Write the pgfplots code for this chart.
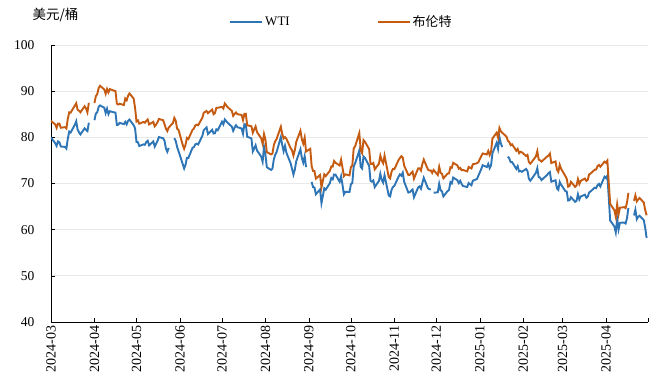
\documentclass[border=0pt]{standalone}
\usepackage{fontspec}
\setmainfont{Liberation Serif}
\newfontfamily\cjk{Noto Sans CJK SC}
\usepackage{pgfplots}
\usepackage{pgfplotstable}
\usepgfplotslibrary{dateplot}
\pgfplotsset{compat=1.18}
\definecolor{wtiblue}{RGB}{46,117,182}
\definecolor{brentorange}{RGB}{197,90,17}
\definecolor{gridgray}{RGB}{232,232,232}

\pgfplotstableread{
date wti brent
2024-03-01 79.97 83.55
2024-03-04 78.74 82.80
2024-03-05 78.15 82.04
2024-03-06 79.13 82.96
2024-03-07 78.93 82.96
2024-03-08 78.01 82.08
2024-03-11 77.93 82.21
2024-03-12 77.56 81.92
2024-03-13 79.72 84.03
2024-03-14 81.26 85.42
2024-03-15 81.04 85.34
2024-03-18 82.72 86.89
2024-03-19 83.47 87.38
2024-03-20 81.68 85.95
2024-03-21 81.07 85.78
2024-03-22 80.63 85.43
2024-03-25 81.95 86.75
2024-03-26 81.62 86.25
2024-03-27 81.35 85.41
2024-03-28 83.17 87.48
2024-03-29 nan nan
2024-04-01 83.71 87.42
2024-04-02 85.15 88.92
2024-04-03 85.43 89.35
2024-04-04 86.59 90.65
2024-04-05 86.91 91.17
2024-04-08 86.43 90.38
2024-04-09 85.23 89.42
2024-04-10 86.21 90.48
2024-04-11 85.02 89.74
2024-04-12 85.66 90.45
2024-04-15 85.41 90.10
2024-04-16 85.36 90.02
2024-04-17 82.69 87.29
2024-04-18 82.73 87.11
2024-04-19 83.14 87.29
2024-04-22 82.85 87.00
2024-04-23 83.36 88.42
2024-04-24 82.81 88.02
2024-04-25 83.57 89.01
2024-04-26 83.85 89.50
2024-04-29 82.63 88.40
2024-04-30 81.93 86.33
2024-05-01 79.00 83.44
2024-05-02 78.95 83.67
2024-05-03 78.11 82.96
2024-05-06 78.48 83.33
2024-05-07 78.38 83.16
2024-05-08 78.99 83.58
2024-05-09 79.26 83.88
2024-05-10 78.26 82.79
2024-05-13 79.12 83.36
2024-05-14 78.02 82.38
2024-05-15 78.63 82.75
2024-05-16 79.23 83.27
2024-05-17 80.06 83.98
2024-05-20 79.80 83.71
2024-05-21 79.26 82.88
2024-05-22 77.57 81.90
2024-05-23 76.87 81.36
2024-05-24 77.72 82.12
2024-05-27 nan 83.10
2024-05-28 79.83 84.22
2024-05-29 79.23 83.60
2024-05-30 77.91 81.86
2024-05-31 76.99 81.62
2024-06-03 74.22 78.36
2024-06-04 73.25 77.52
2024-06-05 74.07 78.41
2024-06-06 75.55 79.87
2024-06-07 75.53 79.62
2024-06-10 77.74 81.63
2024-06-11 77.90 81.92
2024-06-12 78.50 82.60
2024-06-13 78.62 82.75
2024-06-14 78.45 82.62
2024-06-17 80.33 84.25
2024-06-18 81.57 85.33
2024-06-20 82.17 85.71
2024-06-21 80.73 85.24
2024-06-24 81.63 86.01
2024-06-25 80.83 85.01
2024-06-26 80.90 85.25
2024-06-27 81.74 86.39
2024-06-28 81.54 86.41
2024-07-01 83.38 86.60
2024-07-02 82.81 86.24
2024-07-03 83.88 87.34
2024-07-05 83.16 86.54
2024-07-08 82.33 85.75
2024-07-09 81.41 84.66
2024-07-10 82.10 85.08
2024-07-11 82.62 85.40
2024-07-12 82.21 85.03
2024-07-15 81.91 84.85
2024-07-16 80.76 83.73
2024-07-17 82.85 85.08
2024-07-18 82.82 85.11
2024-07-19 80.13 82.63
2024-07-22 79.78 82.40
2024-07-23 76.96 81.01
2024-07-24 77.59 81.71
2024-07-25 78.28 82.37
2024-07-26 77.16 81.13
2024-07-29 75.81 79.78
2024-07-30 74.73 78.63
2024-07-31 77.91 80.72
2024-08-01 76.31 79.52
2024-08-02 73.52 76.81
2024-08-05 72.94 76.30
2024-08-06 73.20 76.48
2024-08-07 75.23 78.33
2024-08-08 76.19 79.16
2024-08-09 76.84 79.66
2024-08-12 80.06 82.30
2024-08-13 78.35 80.69
2024-08-14 76.98 79.76
2024-08-15 78.16 80.04
2024-08-16 76.65 79.68
2024-08-19 74.37 77.66
2024-08-20 73.17 77.20
2024-08-21 71.93 76.05
2024-08-22 73.01 77.22
2024-08-23 74.83 79.02
2024-08-26 77.42 81.43
2024-08-27 75.53 79.55
2024-08-28 74.52 78.65
2024-08-29 75.91 79.94
2024-08-30 73.55 76.93
2024-09-02 nan 77.52
2024-09-03 70.34 73.75
2024-09-04 69.20 72.70
2024-09-05 69.15 72.69
2024-09-06 67.67 71.06
2024-09-09 68.71 71.84
2024-09-10 65.75 69.19
2024-09-11 67.31 70.61
2024-09-12 68.97 71.97
2024-09-13 68.65 71.61
2024-09-16 70.09 72.75
2024-09-17 71.19 73.70
2024-09-18 70.91 73.65
2024-09-19 71.95 74.88
2024-09-20 71.92 74.49
2024-09-23 70.37 73.90
2024-09-24 71.56 75.17
2024-09-25 69.69 73.46
2024-09-26 67.67 71.60
2024-09-27 68.18 71.98
2024-09-30 68.17 71.77
2024-10-01 69.83 73.56
2024-10-02 70.10 73.90
2024-10-03 73.71 77.62
2024-10-04 74.38 78.05
2024-10-07 77.14 80.93
2024-10-08 73.57 77.18
2024-10-09 73.24 76.58
2024-10-10 75.85 79.40
2024-10-11 75.56 79.04
2024-10-14 73.83 77.46
2024-10-15 70.58 74.25
2024-10-16 70.39 74.22
2024-10-17 70.67 74.45
2024-10-18 69.22 73.06
2024-10-21 70.56 74.29
2024-10-22 72.09 76.04
2024-10-23 70.77 74.96
2024-10-24 70.19 74.38
2024-10-25 71.78 76.05
2024-10-28 67.38 71.42
2024-10-29 67.21 71.12
2024-10-30 68.61 72.55
2024-10-31 69.26 73.16
2024-11-01 69.49 73.10
2024-11-04 71.47 75.08
2024-11-05 71.99 75.53
2024-11-06 71.69 75.92
2024-11-07 72.36 75.63
2024-11-08 70.38 73.87
2024-11-11 68.04 71.83
2024-11-12 68.12 71.89
2024-11-13 68.43 72.28
2024-11-14 68.70 72.56
2024-11-15 67.02 71.04
2024-11-18 69.16 73.30
2024-11-19 69.39 73.31
2024-11-20 68.87 72.81
2024-11-21 70.10 74.23
2024-11-22 71.24 75.17
2024-11-25 68.94 73.01
2024-11-26 68.77 72.81
2024-11-27 68.72 72.83
2024-11-28 nan 72.28
2024-11-29 68.00 72.94
2024-12-02 68.10 71.83
2024-12-03 69.94 73.62
2024-12-04 68.54 72.31
2024-12-05 68.30 72.09
2024-12-06 67.20 71.12
2024-12-09 68.37 72.14
2024-12-10 68.59 72.19
2024-12-11 70.29 73.52
2024-12-12 70.02 73.41
2024-12-13 71.29 74.49
2024-12-16 70.71 73.91
2024-12-17 70.08 73.19
2024-12-18 70.58 73.39
2024-12-19 69.91 72.88
2024-12-20 69.46 72.94
2024-12-23 69.24 72.63
2024-12-24 70.10 73.58
2024-12-26 69.62 73.26
2024-12-27 70.60 74.17
2024-12-30 70.99 74.39
2024-12-31 71.72 74.64
2025-01-02 73.13 75.93
2025-01-03 73.96 76.51
2025-01-06 73.56 76.30
2025-01-07 74.25 77.05
2025-01-08 73.32 76.16
2025-01-09 73.92 76.92
2025-01-10 76.57 79.76
2025-01-13 78.82 81.01
2025-01-14 77.50 79.92
2025-01-15 80.04 82.03
2025-01-16 78.68 81.29
2025-01-17 77.88 81.00
2025-01-20 nan 80.15
2025-01-21 75.83 79.29
2025-01-22 75.44 79.00
2025-01-23 74.62 78.29
2025-01-24 74.66 78.50
2025-01-27 73.17 77.08
2025-01-28 73.77 77.49
2025-01-29 72.62 76.58
2025-01-30 72.73 76.87
2025-01-31 72.53 76.76
2025-02-03 73.16 75.96
2025-02-04 72.70 76.20
2025-02-05 71.03 74.61
2025-02-06 70.61 74.29
2025-02-07 71.00 74.66
2025-02-10 72.32 75.87
2025-02-11 73.32 77.00
2025-02-12 71.37 75.18
2025-02-13 71.29 75.02
2025-02-14 70.74 74.74
2025-02-18 71.85 75.84
2025-02-19 72.25 76.04
2025-02-20 72.48 76.48
2025-02-21 70.40 74.43
2025-02-24 70.70 74.78
2025-02-25 68.93 73.02
2025-02-26 68.62 72.53
2025-02-27 70.35 74.04
2025-02-28 69.76 73.18
2025-03-03 68.37 71.62
2025-03-04 68.26 71.04
2025-03-05 66.31 69.30
2025-03-06 66.36 69.46
2025-03-07 67.04 70.36
2025-03-10 66.03 69.28
2025-03-11 66.25 69.56
2025-03-12 67.68 70.95
2025-03-13 66.55 69.88
2025-03-14 67.18 70.58
2025-03-17 67.58 71.07
2025-03-18 66.90 70.56
2025-03-19 67.16 70.78
2025-03-20 68.07 72.00
2025-03-21 68.28 72.16
2025-03-24 69.11 73.00
2025-03-25 69.00 73.02
2025-03-26 69.65 73.79
2025-03-27 69.92 74.03
2025-03-28 69.36 73.63
2025-03-31 71.48 74.74
2025-04-01 71.20 74.49
2025-04-02 71.71 74.95
2025-04-03 66.95 70.14
2025-04-04 61.99 65.58
2025-04-07 60.70 64.21
2025-04-08 59.40 62.82
2025-04-09 62.35 65.48
2025-04-10 60.07 63.33
2025-04-11 61.50 64.76
2025-04-14 61.53 64.88
2025-04-15 61.33 64.67
2025-04-16 62.47 65.85
2025-04-17 64.68 67.96
2025-04-18 nan nan
2025-04-21 63.08 66.26
2025-04-22 64.31 67.44
2025-04-23 62.27 66.12
2025-04-24 62.79 66.55
2025-04-25 63.02 66.87
2025-04-28 62.05 65.86
2025-04-29 60.42 64.25
2025-04-30 58.21 63.12
}\oildata

\begin{document}
\begin{tikzpicture}
\path[use as bounding box] (-51pt,-64pt) rectangle (609pt,322pt);
\begin{axis}[
  scale only axis, width=597pt, height=277pt,
  date coordinates in=x,
  xmin=2024-03-01, xmax=2025-05-01,
  ymin=40, ymax=100, ytick={40,50,60,70,80,90,100},
  xtick={2024-03-01,2024-04-01,2024-05-01,2024-06-01,2024-07-01,2024-08-01,2024-09-01,2024-10-01,2024-11-01,2024-12-01,2025-01-01,2025-02-01,2025-03-01,2025-04-01,2025-05-01},
  xticklabels={2024-03,2024-04,2024-05,2024-06,2024-07,2024-08,2024-09,2024-10,2024-11,2024-12,2025-01,2025-02,2025-03,2025-04,{}},
  axis x line*=bottom, axis y line*=left,
  axis line style={black, line width=0.8pt, -},
  tick align=inside, major tick length=4pt,
  tick style={black, line width=0.6pt},
  ymajorgrids, grid style={gridgray, line width=0.7pt},
  unbounded coords=jump,
  tick label style={font=\fontsize{13.5}{13.5}\selectfont},
  /pgf/number format/assume math mode=true,
  yticklabel style={xshift=-13pt},
  xticklabel style={rotate=90, anchor=east, font=\fontsize{14}{14}\selectfont},
  legend style={at={(0.4866,1.083)}, anchor=center, draw=none, fill=none,
    font=\fontsize{13}{13}\selectfont,
    /tikz/every even column/.append style={column sep=85pt}},
  legend columns=2,
  legend image code/.code={\draw[#1] (0pt,0pt) -- (32pt,0pt);},
]
\addplot[wtiblue, line width=1.9pt] table[x=date, y=wti] {\oildata};
\addlegendentry{WTI}
\addplot[brentorange, line width=1.9pt] table[x=date, y=brent] {\oildata};
\addlegendentry{\cjk 布伦特}
\end{axis}
\node[anchor=west, font=\cjk\fontsize{13.5}{13.5}\selectfont] at (-22pt,307pt) {美元/桶};
\end{tikzpicture}
\end{document}
